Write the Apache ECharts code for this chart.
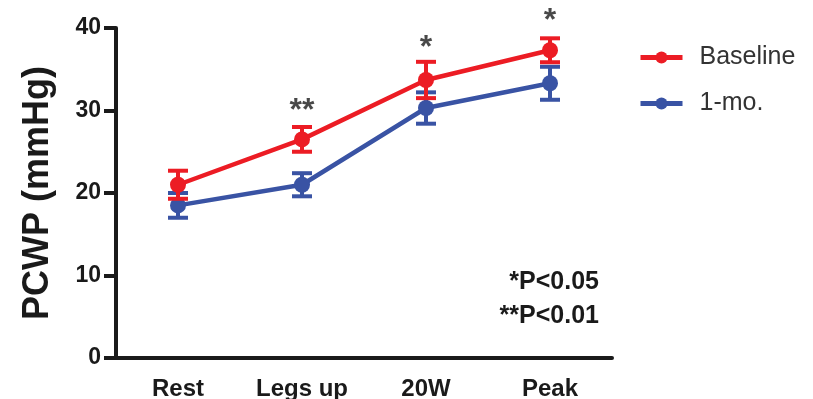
<!DOCTYPE html>
<html>
<head>
<meta charset="utf-8">
<script src="https://cdn.jsdelivr.net/npm/echarts@6/dist/echarts.min.js"></script>
<style>
  html, body { margin: 0; padding: 0; background: #fff; }
  #chart { width: 813px; height: 399px; }
</style>
</head>
<body>
<div id="chart"></div>
<script>
  const categories = ["Rest", "Legs up", "20W", "Peak"];
  const baselineMean = [21.0, 26.5, 33.7, 37.3];
  const baselineErr = [1.7, 1.5, 2.2, 1.45];
  const monthMean = [18.5, 21.0, 30.3, 33.3];
  const monthErr = [1.5, 1.4, 1.9, 2.0];
  // significance marks: [category index, y position, text]
  const sigMarks = [[1, 29.9, "**"], [2, 37.6, "*"], [3, 40.8, "*"]];
  const pNotes = ["*P<0.05", "**P<0.01"];

  const RED = "#ec1c24";
  const BLUE = "#3953a4";
  const FONT = "Liberation Sans, Arial, sans-serif";
  const AXIS = "#1a1a1a";

  function errorData(mean, err) {
    return mean.map((m, i) => [i, m - err[i], m + err[i]]);
  }

  function errorBars(color) {
    return function (params, api) {
      const lo = api.coord([api.value(0), api.value(1)]);
      const hi = api.coord([api.value(0), api.value(2)]);
      const half = 10;
      const style = { stroke: color, lineWidth: 4 };
      return {
        type: "group",
        children: [
          { type: "line", shape: { x1: lo[0], y1: lo[1], x2: hi[0], y2: hi[1] }, style },
          { type: "line", shape: { x1: hi[0] - half, y1: hi[1], x2: hi[0] + half, y2: hi[1] }, style },
          { type: "line", shape: { x1: lo[0] - half, y1: lo[1], x2: lo[0] + half, y2: lo[1] }, style },
        ],
      };
    };
  }

  const chart = echarts.init(document.getElementById("chart"));
  chart.setOption({
    backgroundColor: "#fff",
    animation: false,
    grid: { left: 116, right: 201, top: 28, bottom: 41, outerBoundsMode: "none" },
    legend: {
      data: ["Baseline", "1-mo."],
      orient: "vertical",
      left: 633,
      top: 40,
      itemWidth: 42,
      itemHeight: 15,
      itemGap: 21,
      lineStyle: { width: 5 },
      textStyle: { fontFamily: FONT, fontSize: 25, color: "#333", lineHeight: 25, padding: [0, 0, 0, 12] },
    },
    xAxis: {
      type: "category",
      data: categories,
      axisLine: { lineStyle: { color: AXIS, width: 4 } },
      axisTick: { alignWithLabel: true, length: 12, lineStyle: { color: AXIS, width: 4 } },
      axisLabel: { fontFamily: FONT, fontSize: 24, fontWeight: "bold", color: AXIS, margin: 19 },
    },
    yAxis: {
      type: "value",
      min: 0,
      max: 40,
      interval: 10,
      name: "PCWP (mmHg)",
      nameLocation: "middle",
      nameGap: 60,
      nameTextStyle: { fontFamily: FONT, fontSize: 36, fontWeight: "bold", color: AXIS },
      splitLine: { show: false },
      axisLine: { show: true, lineStyle: { color: AXIS, width: 4 } },
      axisTick: { show: true, length: 12, lineStyle: { color: AXIS, width: 4 } },
      axisLabel: { fontFamily: FONT, fontSize: 23, fontWeight: "bold", color: AXIS, margin: 15 },
    },
    graphic: pNotes.map((t, i) => ({
      type: "text",
      right: 813 - 599,
      top: 270 + i * 34,
      style: { text: t, fontFamily: FONT, fontSize: 25, fontWeight: "bold", fill: AXIS },
    })),
    series: [
      {
        name: "1-mo.",
        type: "line",
        data: monthMean,
        symbol: "circle",
        symbolSize: 16,
        itemStyle: { color: BLUE },
        lineStyle: { color: BLUE, width: 4.5 },
        z: 3,
      },
      {
        type: "custom",
        data: errorData(monthMean, monthErr),
        renderItem: errorBars(BLUE),
        encode: { x: 0, y: [1, 2] },
        z: 3,
      },
      {
        name: "Baseline",
        type: "line",
        data: baselineMean,
        symbol: "circle",
        symbolSize: 16,
        itemStyle: { color: RED },
        lineStyle: { color: RED, width: 4.5 },
        z: 4,
      },
      {
        type: "custom",
        data: errorData(baselineMean, baselineErr),
        renderItem: errorBars(RED),
        encode: { x: 0, y: [1, 2] },
        z: 4,
      },
      {
        type: "scatter",
        data: sigMarks,
        symbolSize: 0,
        clip: false,
        silent: true,
        label: {
          show: true,
          position: "inside",
          formatter: (p) => p.value[2],
          fontFamily: FONT,
          fontSize: 32,
          fontWeight: "bold",
          color: AXIS,
        },
        z: 5,
      },
    ],
  });
</script>
</body>
</html>
